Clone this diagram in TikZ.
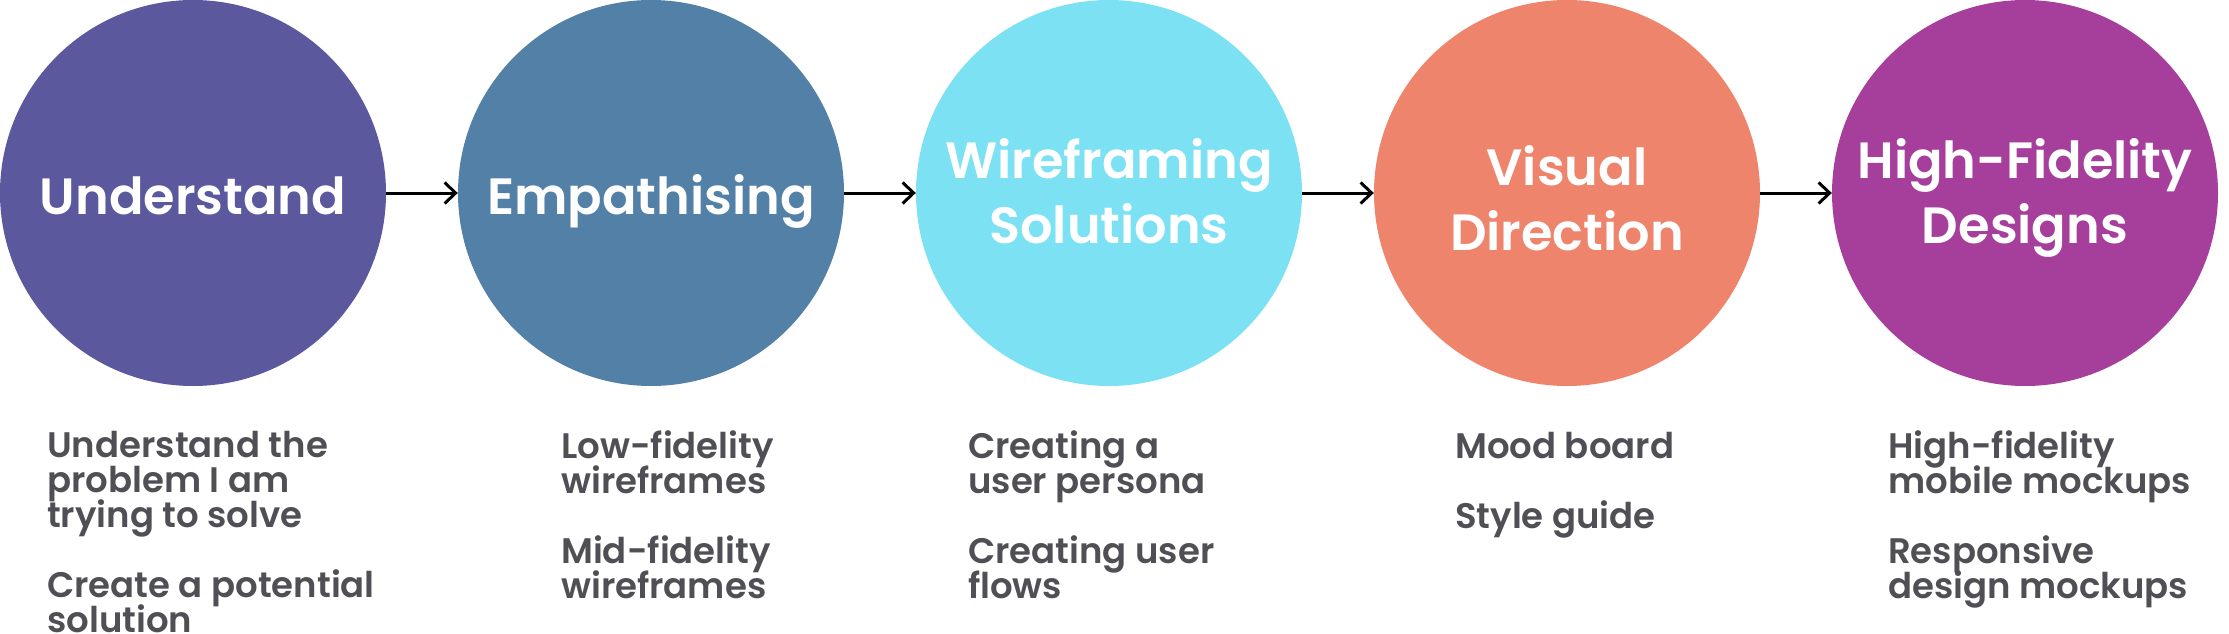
\documentclass[tikz,border=0pt]{standalone}
\usepackage{fontspec}
\setmainfont{Poppins}
\newfontfamily\circfont{Poppins SemiBold}
\newfontfamily\listfont{Poppins SemiBold}
\usetikzlibrary{arrows.meta}
\newcommand\mytightlines{\setlength{\lineskiplimit}{-100pt}}
\definecolor{cA}{HTML}{5B589E}
\definecolor{cB}{HTML}{5380A6}
\definecolor{cC}{HTML}{7DE1F4}
\definecolor{cD}{HTML}{EF846D}
\definecolor{cE}{HTML}{A63F9B}
\definecolor{txtgray}{HTML}{4F4F55}
\tikzset{
  stage/.style={circle, inner sep=0pt, minimum size=386pt, draw=none},
  stagetext/.style={text=white, align=center, inner sep=0pt, anchor=base,
    font=\circfont\fontsize{51pt}{65pt}\selectfont\mytightlines},
  itemtext/.style={text=txtgray, align=left, inner sep=0pt, anchor=base west,
    font=\listfont\fontsize{35.5pt}{35pt}\selectfont\mytightlines},
  flow/.style={line width=3pt, -{Straight Barb[length=11pt,width=21pt,line width=3pt]}}
}
\begin{document}
\begin{tikzpicture}[x=1pt,y=-1pt]
\useasboundingbox (0,0) rectangle (2229,634);
\node[stage, fill=cA] (c1) at (193,193) {};
\node[stage, fill=cB] (c2) at (651,193) {};
\node[stage, fill=cC] (c3) at (1109,193) {};
\node[stage, fill=cD] (c4) at (1567,193) {};
\node[stage, fill=cE] (c5) at (2025,193) {};

% base anchor of a multi-line node = baseline of its last line
\node[stagetext] (t1) at (193,214) {Understand};
\node[stagetext] (t2) at (651,214) {Empathising};
\node[stagetext] (t3) at (1109,243) {Wireframing\\Solutions};
\node[stagetext] (t4) at (1567,250) {Visual\\Direction};
\node[stagetext] (t5) at (2025,243) {High-Fidelity\\Designs};

\draw[flow] (c1.east) -- (c2.west);
\draw[flow] (c2.east) -- (c3.west);
\draw[flow] (c3.east) -- (c4.west);
\draw[flow] (c4.east) -- (c5.west);

\node[itemtext] (l1) at (47,632) {Understand the\\problem I am\\trying to solve\\[35pt]Create a potential\\solution};
\node[itemtext] (l2) at (561,598) {Low-fidelity\\wireframes\\[35pt]Mid-fidelity\\wireframes};
\node[itemtext] (l3) at (968,598) {Creating a\\user persona\\[35pt]Creating user\\flows};
\node[itemtext] (l4) at (1455,528) {Mood board\\[35pt]Style guide};
\node[itemtext] (l5) at (1888,598) {High-fidelity\\mobile mockups\\[35pt]Responsive\\design mockups};
\end{tikzpicture}
\end{document}
